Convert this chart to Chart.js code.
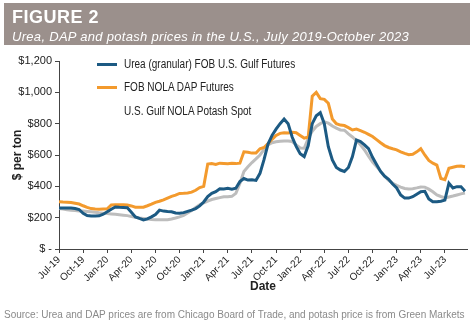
<!DOCTYPE html>
<html>
<head>
<meta charset="utf-8">
<script src="https://cdn.jsdelivr.net/npm/chart.js@4.4.1/dist/chart.umd.min.js"></script>
<style>
  body { margin:0; background:#fff; font-family:'Liberation Sans', Arial, sans-serif; }
  #wrap { position:relative; width:474px; height:330px; overflow:hidden; }
  #chartBox { position:absolute; left:0; top:0; width:474px; height:330px; }
  #header { position:absolute; left:4px; top:3px; width:466px; height:42px; background:#9b908c; color:#fff; }
  #header .fig { position:absolute; left:8px; top:4px; font-size:18px; font-weight:bold; letter-spacing:0.5px; }
  #header .sub { position:absolute; left:8px; top:26px; font-size:13px; font-style:italic; letter-spacing:0.3px; }
  .leg { position:absolute; font-size:12.5px; color:#222; white-space:nowrap; transform:scaleX(0.8); transform-origin:0 0; }
  .sw { position:absolute; height:3px; width:20px; }
  #source { position:absolute; left:4px; top:309px; font-size:10px; color:#8a8a8a; white-space:nowrap; }
</style>
</head>
<body>
<div id="wrap">
  <div id="chartBox"><canvas id="chart"></canvas></div>
  <div id="header">
    <div class="fig">FIGURE 2</div>
    <div class="sub">Urea, DAP and potash prices in the U.S., July 2019-October 2023</div>
  </div>
  <div class="sw" style="left:97px;top:63px;background:#1c5a83"></div>
  <div class="leg" style="left:124px;top:57px">Urea (granular) FOB U.S. Gulf Futures</div>
  <div class="sw" style="left:97px;top:86px;background:#f39a2d"></div>
  <div class="leg" style="left:124px;top:80px">FOB NOLA DAP Futures</div>
  <div class="leg" style="left:124px;top:104px">U.S. Gulf NOLA Potash Spot</div>
  <div id="source">Source: Urea and DAP prices are from Chicago Board of Trade, and potash price is from Green Markets</div>
</div>
<script>
// quarter tick labels (every 3 months from Jul-19)
const tickLabels = ["Jul-19","Oct-19","Jan-20","Apr-20","Jul-20","Oct-20","Jan-21","Apr-21","Jul-21",
  "Oct-21","Jan-22","Apr-22","Jul-22","Oct-22","Jan-23","Apr-23","Jul-23"];

// prices, twice a month from July 2019 ($ per ton)
const urea = [262,262,261,262,258,252,228,214,211,210,212,222,238,254,268,266,265,263,235,205,
  195,186,192,205,220,248,242,239,238,230,228,232,240,248,258,275,300,335,355,366,
  385,383,387,382,388,430,450,440,442,438,483,570,670,725,765,800,830,800,715,655,
  608,590,660,800,850,870,800,653,568,520,504,495,520,590,695,685,665,640,585,540,
  495,465,445,415,390,345,325,325,334,350,366,368,320,302,302,305,312,420,390,398,
  398,368];
const dap = [302,300,299,297,292,287,276,266,258,255,254,255,256,281,282,283,282,281,275,267,
  266,267,276,286,298,305,314,325,336,344,355,356,358,363,375,392,400,542,545,540,
  548,546,544,547,545,548,620,617,612,612,640,648,672,700,725,738,742,740,745,742,
  725,708,715,975,1000,960,955,930,830,800,791,788,775,760,765,755,745,732,718,698,
  678,660,648,640,633,620,610,602,605,620,640,600,565,548,536,450,442,515,522,528,
  530,525];
const potash = [258,255,251,247,245,243,242,240,238,235,231,229,226,224,222,219,216,213,208,203,
  198,195,192,189,187,187,187,187,192,198,205,215,230,245,265,282,295,306,316,322,
  328,334,334,336,355,419,495,525,552,575,600,635,665,678,684,688,690,690,686,665,
  645,643,706,752,782,800,812,803,785,772,760,758,735,715,692,665,632,592,555,527,
  497,465,438,420,406,395,386,383,385,390,396,395,382,365,345,335,326,332,338,345,
  352,357];

// months since Jul-2019 for each reading
const months = urea.map((_, i) => i * 0.5);
const pts = arr => arr.map((v, i) => ({ x: months[i], y: v }));

const sans = "'Liberation Sans', Arial, sans-serif";

new Chart(document.getElementById("chart"), {
  type: "line",
  data: {
    datasets: [
      { label: "Urea (granular) FOB U.S. Gulf Futures", data: pts(urea), borderColor: "#1c5a83" },
      { label: "FOB NOLA DAP Futures", data: pts(dap), borderColor: "#f39a2d" },
      { label: "U.S. Gulf NOLA Potash Spot", data: pts(potash), borderColor: "#bdbdbd" }
    ]
  },
  options: {
    responsive: true,
    maintainAspectRatio: false,
    animation: false,
    layout: { padding: { left: 8, right: 7, top: 61, bottom: 36 } },
    elements: { point: { radius: 0 }, line: { borderWidth: 3, tension: 0 } },
    plugins: { legend: { display: false }, tooltip: { enabled: false } },
    scales: {
      x: {
        type: "linear",
        min: 0, max: 50.75,
        afterBuildTicks: s => { s.ticks = tickLabels.map((_, i) => ({ value: i * 3 })); },
        afterFit: s => { s.height = 45; },
        ticks: {
          callback: v => tickLabels[v / 3],
          minRotation: 45, maxRotation: 45, autoSkip: false,
          font: { family: sans, size: 10 }, color: "#222", padding: 1
        },
        grid: { drawOnChartArea: false, drawTicks: true, tickLength: 4, color: "#444" },
        border: { color: "#444", width: 1 },
        title: { display: true, text: "Date", font: { family: sans, size: 12, weight: "bold" }, color: "#222", padding: 0 }
      },
      y: {
        min: 0, max: 1200,
        afterFit: s => { s.width = 51; },
        ticks: {
          stepSize: 200,
          callback: v => v === 0 ? "$ -" : "$" + v.toLocaleString("en-US"),
          font: { family: sans, size: 11 }, color: "#222", padding: 3
        },
        grid: { drawOnChartArea: false, drawTicks: true, tickLength: 4, color: "#444" },
        border: { color: "#444", width: 1 },
        title: { display: true, text: "$ per ton", font: { family: sans, size: 12, weight: "bold" }, color: "#222", padding: 2 }
      }
    }
  }
});
</script>
</body>
</html>
